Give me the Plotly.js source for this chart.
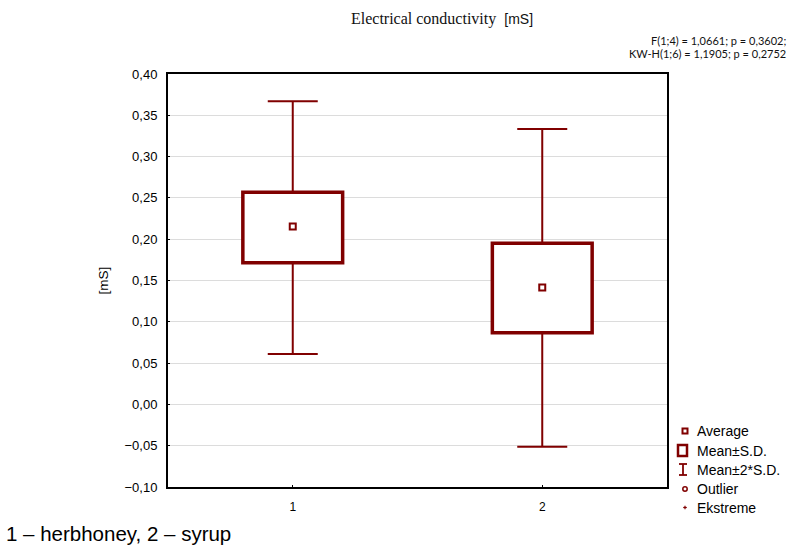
<!DOCTYPE html>
<html>
<head>
<meta charset="utf-8">
<script src="https://cdn.plot.ly/plotly-3.0.1.min.js"></script>
<style>
  html, body { margin: 0; padding: 0; background: #fff; }
  #chart { width: 789px; height: 546px; }
</style>
</head>
<body>
<div id="chart"></div>
<script>
// Electrical conductivity per product group: mean, mean ± S.D. box, mean ± 2*S.D. whiskers
const groups   = ['1', '2'];
const means    = [0.2155, 0.1415];
const sdLow    = [0.1714, 0.0867];
const sdHigh   = [0.2568, 0.1952];
const sd2Low   = [0.0610, -0.0512];
const sd2High  = [0.3670, 0.3335];
const yTicks   = [-0.10, -0.05, 0.00, 0.05, 0.10, 0.15, 0.20, 0.25, 0.30, 0.35, 0.40];

const legendItems = ['Average', 'Mean±S.D.', 'Mean±2*S.D.', 'Outlier', 'Ekstreme'];
const statLines = ['F(1;4) = 1,0661; p = 0,3602;', 'KW-H(1;6) = 1,1905; p = 0,2752'];
const footnote = '1 – herbhoney, 2 – syrup';

const RED = '#800000';
const SANS = 'Liberation Sans, Arial, sans-serif';

// plot area in pixels
const L = 168, R = 667, T = 74, B = 487, W = 789, H = 546;
const px = x => (x - L) / (R - L);
const py = y => (B - y) / (B - T);

const boxes = {
  type: 'bar',
  x: groups,
  base: sdLow,
  y: sdHigh.map((v, i) => v - sdLow[i]),
  width: 0.4,
  marker: { color: '#ffffff', line: { color: RED, width: 3.5 } },
  hoverinfo: 'skip',
  showlegend: false
};

const upperWhisker = {
  type: 'scatter',
  mode: 'markers',
  x: groups,
  y: sdHigh,
  marker: { size: 1, opacity: 0 },
  error_y: {
    type: 'data', symmetric: false,
    array: sd2High.map((v, i) => v - sdHigh[i]),
    arrayminus: sdHigh.map(() => 0),
    color: RED, thickness: 2, width: 25
  },
  hoverinfo: 'skip',
  showlegend: false
};

const lowerWhisker = {
  type: 'scatter',
  mode: 'markers',
  x: groups,
  y: sdLow,
  marker: { size: 1, opacity: 0 },
  error_y: {
    type: 'data', symmetric: false,
    array: sdLow.map(() => 0),
    arrayminus: sdLow.map((v, i) => v - sd2Low[i]),
    color: RED, thickness: 2, width: 25
  },
  hoverinfo: 'skip',
  showlegend: false
};

const meanPts = {
  type: 'scatter',
  mode: 'markers',
  x: groups,
  y: means,
  marker: { symbol: 'square-open', size: 6, color: RED, line: { color: RED, width: 2 } },
  showlegend: false
};

// legend drawn beside the plot: icon shapes + labels
const rowY = [431, 450.5, 469.5, 489, 507.5];
const iconX = 684;
const shapes = [];
function pxShape(type, cx, cy, dx0, dy0, dx1, dy1, line, fill) {
  return {
    type: type, xref: 'paper', yref: 'paper',
    xsizemode: 'pixel', ysizemode: 'pixel',
    xanchor: px(cx), yanchor: py(cy),
    x0: dx0, x1: dx1, y0: dy0, y1: dy1,
    line: line, fillcolor: fill || 'rgba(0,0,0,0)'
  };
}
shapes.push(pxShape('rect', iconX + 1, rowY[0], -2.5, -2.5, 2.5, 2.5, { color: RED, width: 2 }));
shapes.push(pxShape('rect', iconX - 1.5, rowY[1], -4.5, -5.5, 4.5, 5.5, { color: RED, width: 2.5 }));
shapes.push(pxShape('line', iconX - 1, rowY[2], 0, -5.5, 0, 5.5, { color: RED, width: 1.8 }));
shapes.push(pxShape('line', iconX - 1, rowY[2], -4, 5.5, 4, 5.5, { color: RED, width: 1.8 }));
shapes.push(pxShape('line', iconX - 1, rowY[2], -4, -5.5, 4, -5.5, { color: RED, width: 1.8 }));
shapes.push(pxShape('circle', iconX + 1, rowY[3], -2.2, -2.2, 2.2, 2.2, { color: RED, width: 1.5 }));
shapes.push(pxShape('line', iconX + 1, rowY[4], -1.8, 0, 1.8, 0, { color: RED, width: 1.2 }));
shapes.push(pxShape('line', iconX + 1, rowY[4], 0, -1.8, 0, 1.8, { color: RED, width: 1.2 }));

const annotations = legendItems.map((t, i) => ({
  text: t, xref: 'paper', yref: 'paper',
  x: px(695), y: py(rowY[i]), xanchor: 'left', yanchor: 'middle',
  showarrow: false, font: { family: SANS, size: 14, color: '#000' }
}));

statLines.forEach((t, i) => annotations.push({
  text: t, xref: 'paper', yref: 'paper',
  x: px(788), y: py(i === 0 ? 40 : 54), xanchor: 'right', yanchor: 'middle',
  showarrow: false, font: { family: 'Lato, Carlito, sans-serif', size: 11, color: '#111' }
}));

annotations.push({
  text: footnote, xref: 'paper', yref: 'paper',
  x: px(5), y: py(533), xanchor: 'left', yanchor: 'middle',
  showarrow: false, borderpad: 0, font: { family: SANS, size: 20.5, color: '#000' }
});

const layout = {
  width: W, height: H,
  margin: { l: L, r: W - R, t: T, b: H - B, pad: 0 },
  paper_bgcolor: '#fff', plot_bgcolor: '#fff',
  separators: ',.',
  showlegend: false,
  title: {
    text: 'Electrical conductivity\u00a0\u00a0<span style="font-family:Liberation Sans, Arial, sans-serif;font-size:14px">[mS]</span>',
    font: { family: 'Liberation Serif, Times New Roman, serif', size: 16, color: '#111' },
    xref: 'container', x: 442 / W, xanchor: 'center',
    yref: 'container', y: 1 - 18 / H, yanchor: 'middle'
  },
  xaxis: {
    type: 'category',
    range: [-0.5, 1.5],
    showgrid: false, zeroline: false,
    showline: true, mirror: true, linecolor: '#000', linewidth: 2,
    ticks: 'inside', ticklen: 2, tickcolor: '#000',
    tickfont: { family: SANS, size: 12, color: '#000' },
    ticklabelstandoff: 8
  },
  yaxis: {
    range: [-0.10, 0.40],
    tickvals: yTicks,
    tickformat: '.2f',
    showgrid: true, gridcolor: '#dcdcdc', gridwidth: 1,
    zeroline: false,
    showline: true, mirror: true, linecolor: '#000', linewidth: 2,
    ticks: 'inside', ticklen: 2, tickcolor: '#000',
    tickfont: { family: SANS, size: 13, color: '#000' },
    ticklabelstandoff: 6,
    title: { text: '[mS]', font: { family: SANS, size: 13.5, color: '#000' }, standoff: 13 }
  },
  shapes: shapes,
  annotations: annotations,
  bargap: 0
};

Plotly.newPlot('chart', [boxes, upperWhisker, lowerWhisker, meanPts], layout, { displayModeBar: false, staticPlot: true });
</script>
</body>
</html>
